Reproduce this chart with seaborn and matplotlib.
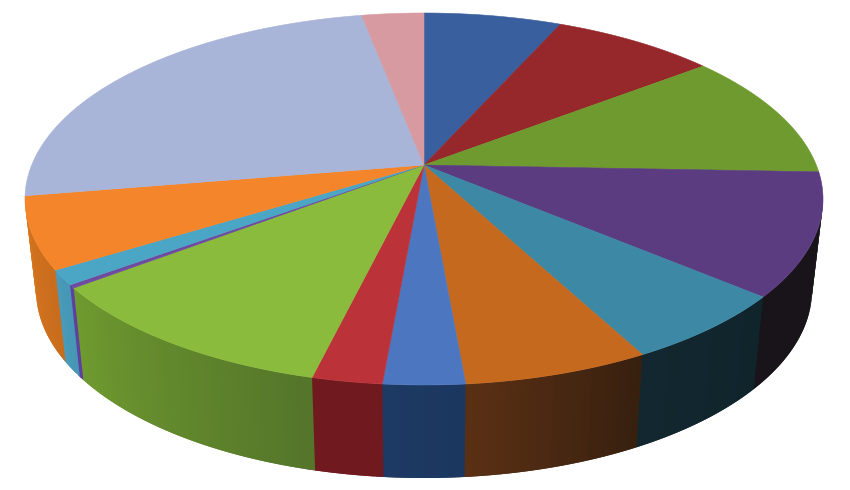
import numpy as np
import pandas as pd
import seaborn as sns
import matplotlib
matplotlib.use("Agg")
import matplotlib.pyplot as plt

# Slice values (share of the full turn, in degrees), clockwise from twelve o'clock
slice_names = ["s01", "s02", "s03", "s04", "s05", "s06", "s07",
               "s08", "s09", "s10", "s11", "s12", "s13", "s14"]
slice_values = [20.0, 24.4, 37.2, 40.2, 25.0, 27.2, 12.0,
                10.3, 45.1, 1.1, 5.0, 23.5, 80.0, 9.0]
top_colors = ["#3A5F9E", "#96282C", "#6F9A2F", "#5B3C80", "#3D88A4", "#C5691E", "#4C76BF",
              "#BC3239", "#8ABB3C", "#6E4BA0", "#4BA5C4", "#F5852A", "#A9B5D8", "#D69AA0"]
# Wall shade at the clockwise start and end of each slice
wall_start = ["#1F3557", "#551618", "#3E561A", "#18141A", "#10242C", "#38200F", "#1B375F",
              "#701A20", "#54752A", "#5F3FA0", "#4597B5", "#C86C1D", "#5E6478", "#77555A"]
wall_end = ["#1F3557", "#551618", "#3E561A", "#18141A", "#12272F", "#5A3014", "#1D3A64",
            "#701A20", "#6F9A2F", "#5F3FA0", "#4A9ABA", "#D8761F", "#5E6478", "#77555A"]

# Projection of the pie in figure pixels
APEX = (424, 165)
TOP = dict(cx=424, cy=199, rx=399, ry=186)
BOTTOM = dict(cx=424, cy=290, rx=388, ry=188)

sns.set_theme(style="white")
df = pd.DataFrame({"name": slice_names, "value": slice_values,
                   "top": top_colors, "start": wall_start, "end": wall_end})
df["t1"] = df["value"].cumsum() / df["value"].sum() * 2 * np.pi
df["t0"] = df["t1"].shift(fill_value=0.0)


def rim(t, e):
    return e["cx"] + e["rx"] * np.sin(t), e["cy"] - e["ry"] * np.cos(t)


fig = plt.figure(figsize=(8.5, 4.9), dpi=100)
ax = fig.add_axes([0, 0, 1, 1])
ax.set_xlim(0, 850)
ax.set_ylim(490, 0)
ax.axis("off")

# Side walls (front half only): overlapping strips painted in order form a gradient
FRONT_LO, FRONT_HI = np.pi * 0.5, np.pi * 1.505
for row in df.itertuples():
    lo, hi = max(row.t0, FRONT_LO), min(row.t1, FRONT_HI)
    if hi <= lo:
        continue
    n = max(2, int((hi - lo) / 0.02))
    shades = sns.blend_palette([row.start, row.end], n)
    edges = np.linspace(lo, hi, n + 1)
    step = edges[1] - edges[0]
    for a, c in zip(edges[:-1], shades):
        b = min(a + 2 * step, FRONT_HI)
        tt = np.linspace(a, b, 6)
        x1, y1 = rim(tt, TOP)
        x2, y2 = rim(tt[::-1], BOTTOM)
        ax.fill(np.r_[x1, x2], np.r_[y1, y2], color=c, lw=0, zorder=2)

# Top face
for row in df.itertuples():
    tt = np.linspace(row.t0, row.t1, 80)
    x, y = rim(tt, TOP)
    ax.fill(np.r_[APEX[0], x], np.r_[APEX[1], y], color=row.top, lw=0.4, zorder=3)

fig.savefig("out.png", dpi=100, facecolor="white")
